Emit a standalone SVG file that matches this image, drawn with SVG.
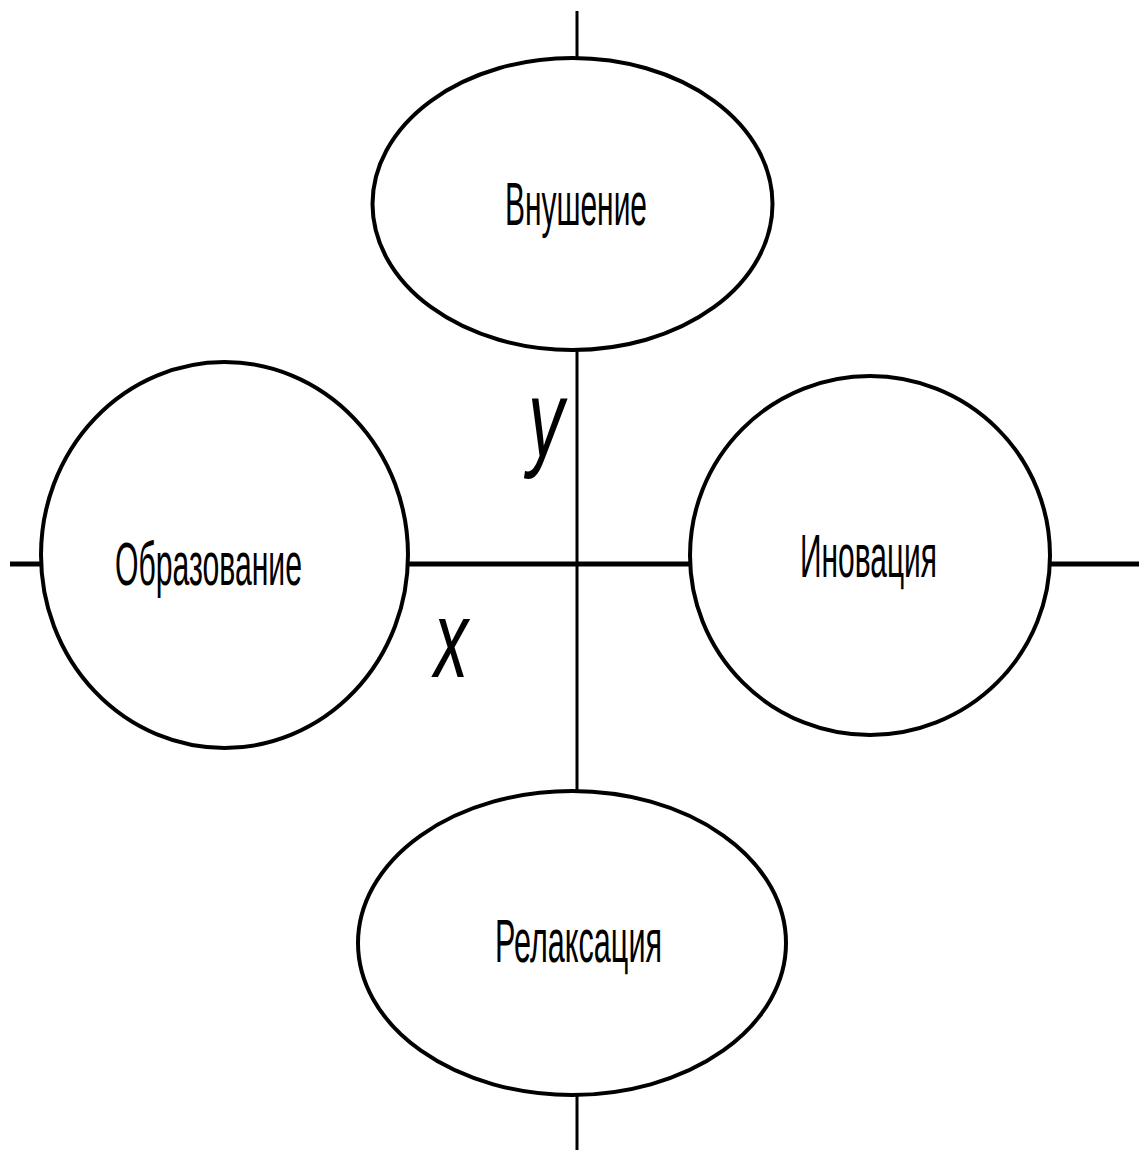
<svg xmlns="http://www.w3.org/2000/svg" width="1139" height="1153" viewBox="0 0 1139 1153">
<style>
.node ellipse{fill:none;stroke:#000;stroke-width:4}
.conn line{stroke:#000}
.conn .v{stroke-width:3}
.conn .h{stroke-width:5}
.lbl{font-family:"Liberation Sans",Arial,sans-serif;font-size:61px;fill:#000;text-anchor:middle}
.ax{font-family:"Liberation Sans",Arial,sans-serif;font-size:110px;font-style:italic;fill:#000}
</style>
<rect width="1139" height="1153" fill="#fff"/>
<g id="connectors" class="conn">
<line class="v" x1="577" y1="11" x2="577" y2="58"/>
<line class="v" x1="577" y1="350" x2="577" y2="791"/>
<line class="v" x1="577" y1="1095" x2="577" y2="1150"/>
<line class="h" x1="10" y1="564" x2="41" y2="564"/>
<line class="h" x1="408" y1="564" x2="690" y2="564"/>
<line class="h" x1="1050" y1="564" x2="1139" y2="564"/>
</g>
<g id="node-vnushenie" class="node">
<ellipse cx="572.5" cy="204" rx="200" ry="146"/>
<text class="lbl" transform="translate(576,225) scale(0.5,1)" x="0" y="0" textLength="284" lengthAdjust="spacingAndGlyphs">Внушение</text>
</g>
<g id="node-obrazovanie" class="node">
<ellipse cx="224.5" cy="555" rx="183.5" ry="193"/>
<text class="lbl" transform="translate(208.5,585) scale(0.5,1)" x="0" y="0" textLength="374" lengthAdjust="spacingAndGlyphs">Образование</text>
</g>
<g id="node-inovaciya" class="node">
<ellipse cx="870" cy="555.5" rx="180" ry="179.5"/>
<text class="lbl" transform="translate(868.5,577) scale(0.5,1)" x="0" y="0" textLength="274" lengthAdjust="spacingAndGlyphs">Иновация</text>
</g>
<g id="node-relaksaciya" class="node">
<ellipse cx="572" cy="943" rx="214" ry="152"/>
<text class="lbl" transform="translate(578.5,962) scale(0.5,1)" x="0" y="0" textLength="334" lengthAdjust="spacingAndGlyphs">Релаксация</text>
</g>
<g id="axis-labels">
<text class="ax" transform="translate(528,456) scale(0.6,1)" x="0" y="0" textLength="60" lengthAdjust="spacingAndGlyphs">y</text>
<text class="ax" transform="translate(434,677) scale(0.6,1)" x="0" y="0" textLength="57" lengthAdjust="spacingAndGlyphs">x</text>
</g>
</svg>
